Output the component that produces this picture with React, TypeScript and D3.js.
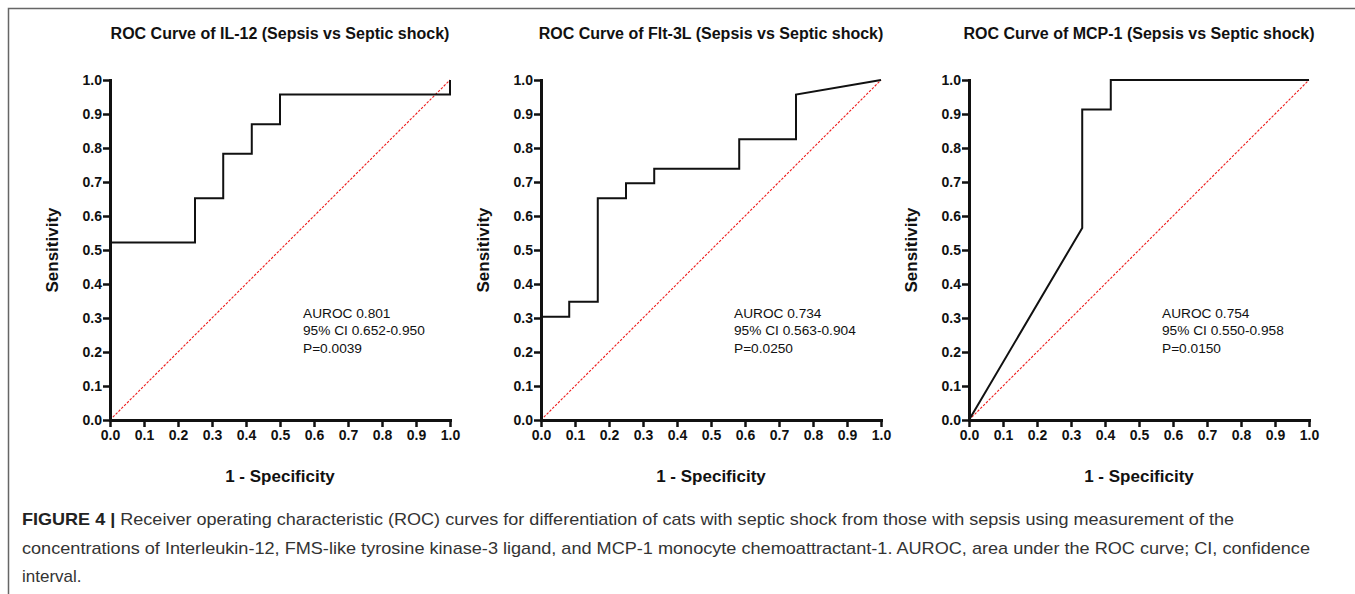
import { useEffect, useRef } from 'react'
import * as d3 from 'd3'

// titles of the three panels
const panelTitles = [
  'ROC Curve of IL-12 (Sepsis vs Septic shock)',
  'ROC Curve of Flt-3L (Sepsis vs Septic shock)',
  'ROC Curve of MCP-1 (Sepsis vs Septic shock)',
]

// ROC points (1 - specificity, sensitivity)
const il12Fpr = [0, 0, 0.25, 0.25, 0.333, 0.333, 0.417, 0.417, 0.5, 0.5, 1, 1]
const il12Tpr = [0, 0.522, 0.522, 0.652, 0.652, 0.783, 0.783, 0.870, 0.870, 0.957, 0.957, 1]

const flt3Fpr = [0, 0, 0.083, 0.083, 0.167, 0.167, 0.25, 0.25, 0.333, 0.333, 0.583, 0.583, 0.75, 0.75, 1]
const flt3Tpr = [0, 0.304, 0.304, 0.348, 0.348, 0.652, 0.652, 0.696, 0.696, 0.739, 0.739, 0.826, 0.826, 0.957, 1]

const mcp1Fpr = [0, 0.333, 0.333, 0.417, 0.417, 1]
const mcp1Tpr = [0, 0.565, 0.913, 0.913, 1, 1]

const aurocLabels = ['AUROC 0.801', 'AUROC 0.734', 'AUROC 0.754']
const ciLabels = ['95% CI 0.652-0.950', '95% CI 0.563-0.904', '95% CI 0.550-0.958']
const pLabels = ['P=0.0039', 'P=0.0250', 'P=0.0150']

const tickValues = [0, 0.1, 0.2, 0.3, 0.4, 0.5, 0.6, 0.7, 0.8, 0.9, 1.0]

const captionLines = [
  'Receiver operating characteristic (ROC) curves for differentiation of cats with septic shock from those with sepsis using measurement of the',
  'concentrations of Interleukin-12, FMS-like tyrosine kinase-3 ligand, and MCP-1 monocyte chemoattractant-1. AUROC, area under the ROC curve; CI, confidence',
  'interval.',
]

const FONT = "'Liberation Sans', Arial, Helvetica, sans-serif"

export default function App() {
  const svgRef = useRef<SVGSVGElement>(null)

  useEffect(() => {
    if (!svgRef.current) return
    const svg = d3.select(svgRef.current)
    svg.selectAll('*').remove()

    const W = 1355
    const H = 594

    svg.append('rect').attr('width', W).attr('height', H).attr('fill', '#fff')

    // figure frame
    svg.append('path')
      .attr('d', `M8.5,${H + 5} L8.5,8.5 L${W + 5},8.5`)
      .attr('fill', 'none')
      .attr('stroke', '#666')
      .attr('stroke-width', 1.5)

    const series = [
      { fpr: il12Fpr, tpr: il12Tpr },
      { fpr: flt3Fpr, tpr: flt3Tpr },
      { fpr: mcp1Fpr, tpr: mcp1Tpr },
    ]
    const panelLeft = [110, 541, 969]
    const plotW = 340
    const top = 80
    const bottom = 420

    series.forEach((s, i) => {
      const x = d3.scaleLinear().domain([0, 1]).range([panelLeft[i], panelLeft[i] + plotW])
      const y = d3.scaleLinear().domain([0, 1]).range([bottom, top])
      const g = svg.append('g')

      // title
      g.append('text')
        .attr('x', (x(0) + x(1)) / 2)
        .attr('y', 39)
        .attr('text-anchor', 'middle')
        .style('font-family', FONT)
        .style('font-weight', 'bold')
        .style('font-size', '16px')
        .style('fill', '#111')
        .text(panelTitles[i])

      // reference diagonal
      g.append('line')
        .attr('x1', x(0)).attr('y1', y(0))
        .attr('x2', x(1)).attr('y2', y(1))
        .attr('stroke', '#ee1c1c')
        .attr('stroke-width', 1.1)
        .attr('stroke-dasharray', '2.5,1.5')

      // ROC curve
      const line = d3.line<number>()
        .x((_, k) => x(s.fpr[k]))
        .y(d => y(d))
      g.append('path')
        .attr('d', line(s.tpr))
        .attr('fill', 'none')
        .attr('stroke', '#111')
        .attr('stroke-width', 2)

      // axes
      const fmt = d3.format('.1f')
      const yAxis = g.append('g')
        .attr('transform', `translate(${x(0)},0)`)
        .call(d3.axisLeft(y).tickValues(tickValues).tickFormat(d => fmt(d as number)).tickSize(7).tickSizeOuter(0).tickPadding(1))
      const xAxis = g.append('g')
        .attr('transform', `translate(0,${y(0)})`)
        .call(d3.axisBottom(x).tickValues(tickValues).tickFormat(d => fmt(d as number)).tickSize(7).tickSizeOuter(0).tickPadding(3))

      ;[yAxis, xAxis].forEach(ax => {
        ax.select('.domain').attr('stroke', '#111').attr('stroke-width', 3).attr('stroke-linecap', 'square')
        ax.selectAll('.tick line').attr('stroke', '#111').attr('stroke-width', 2.5)
        ax.selectAll('.tick text')
          .style('font-family', FONT)
          .style('font-weight', 'bold')
          .style('font-size', '14px')
          .style('fill', '#111')
      })

      // axis labels
      g.append('text')
        .attr('transform', `translate(${x(0) - 52},${(top + bottom) / 2}) rotate(-90)`)
        .attr('text-anchor', 'middle')
        .style('font-family', FONT)
        .style('font-weight', 'bold')
        .style('font-size', '17px')
        .style('fill', '#111')
        .text('Sensitivity')

      g.append('text')
        .attr('x', (x(0) + x(1)) / 2)
        .attr('y', 482)
        .attr('text-anchor', 'middle')
        .style('font-family', FONT)
        .style('font-weight', 'bold')
        .style('font-size', '17px')
        .style('fill', '#111')
        .text('1 - Specificity')

      // stats annotation
      const stats = [aurocLabels[i], ciLabels[i], pLabels[i]]
      stats.forEach((t, k) => {
        g.append('text')
          .attr('x', x(0) + 193)
          .attr('y', 318 + k * 17.3)
          .style('font-family', FONT)
          .style('font-size', '13.7px')
          .style('fill', '#111')
          .text(t)
      })
    })

    // caption
    const cap = svg.append('g')
      .style('font-family', FONT)
      .style('font-size', '17px')
      .style('fill', '#333')
    const capWidths = [1212, 1288, 0]
    captionLines.forEach((t, k) => {
      const txt = cap.append('text')
        .attr('x', 22)
        .attr('y', 525 + k * 28.6)
      if (k === 0) {
        txt.append('tspan').style('font-weight', 'bold').style('fill', '#222').text('FIGURE 4 | ')
      }
      txt.append('tspan').text(t)
      if (capWidths[k]) txt.attr('textLength', capWidths[k]).attr('lengthAdjust', 'spacingAndGlyphs')
    })
  }, [])

  return (
    <svg
      ref={svgRef}
      width={1355}
      height={594}
      style={{ position: 'absolute', left: 0, top: 0, display: 'block' }}
    />
  )
}
